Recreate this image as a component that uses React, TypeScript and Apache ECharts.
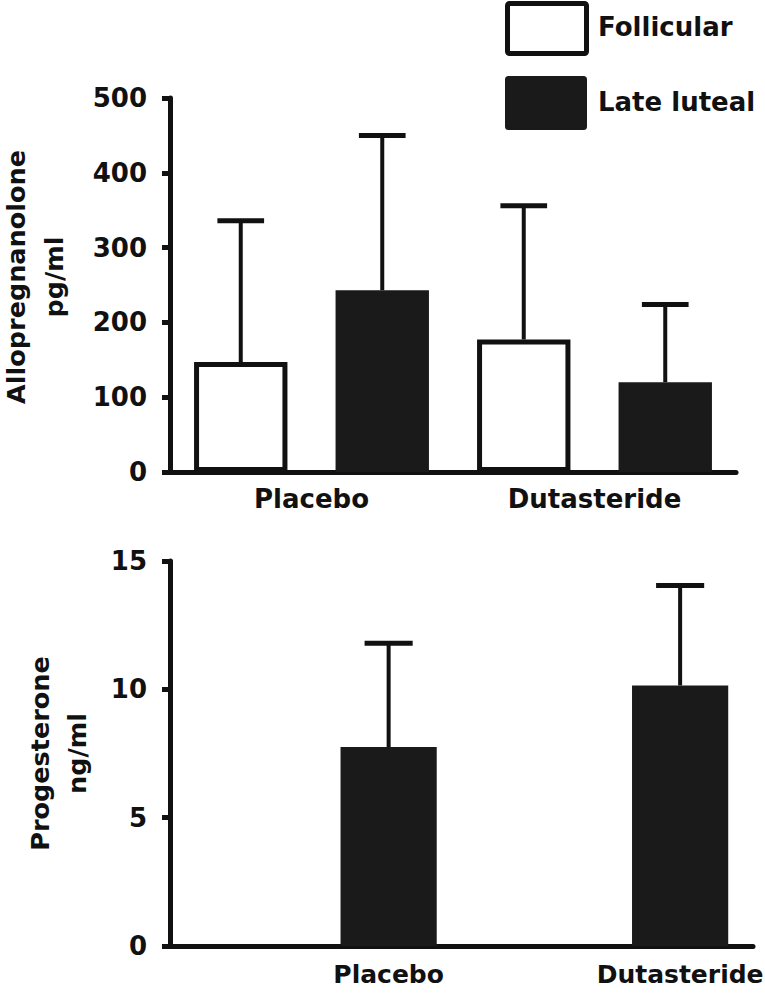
import React, { useEffect, useRef } from 'react';
import * as echarts from 'echarts';

const groups = ['Placebo', 'Dutasteride'];
const phases = ['Follicular', 'Late luteal'];

const alloMax = 500;
const alloStep = 100;
const alloFollicularMean = [147, 177];
const alloFollicularUpper = [336, 356];
const alloLutealMean = [243, 120];
const alloLutealUpper = [450, 224];

const progMax = 15;
const progStep = 5;
const progLutealMean = [7.75, 10.15];
const progLutealUpper = [11.8, 14.05];

const alloName = 'Allopregnanolone\npg/ml';
const progName = 'Progesterone\nng/ml';

const FONT = 'DejaVu Sans';
const INK = '#111';
const FILL = '#1a1a1a';

const whiteStyle = { color: '#fff', borderColor: INK, borderWidth: 5 };
const blackStyle = { color: FILL, borderColor: FILL, borderWidth: 5 };

const textBase = { fontFamily: FONT, fontWeight: 'bold' as const, fontSize: 26, color: INK };

function errRender(params: any, api: any) {
  const x = api.value(0);
  const base = api.coord([x, api.value(1)]);
  const top = api.coord([x, api.value(2)]);
  const half = api.size([1, 0])[0] * 0.165;
  return {
    type: 'group',
    children: [
      { type: 'line', shape: { x1: top[0], y1: top[1], x2: base[0], y2: base[1] }, style: { stroke: INK, lineWidth: 4 } },
      { type: 'line', shape: { x1: top[0] - half, y1: top[1], x2: top[0] + half, y2: top[1] }, style: { stroke: INK, lineWidth: 5 } },
    ],
  };
}

export default function App() {
  const ref = useRef<HTMLDivElement>(null);
  useEffect(() => {
    const chart = echarts.init(ref.current!, null, { renderer: 'svg' });
    const slots = groups.flatMap((g) => phases.map((p) => `${g} ${p}`));
    const topBars = groups.flatMap((g, i) => [
      { value: alloFollicularMean[i], itemStyle: whiteStyle },
      { value: alloLutealMean[i], itemStyle: blackStyle },
    ]);
    const topErr = groups.flatMap((g, i) => [
      [2 * i, alloFollicularMean[i], alloFollicularUpper[i]],
      [2 * i + 1, alloLutealMean[i], alloLutealUpper[i]],
    ]);
    const bottomBars = groups.flatMap((g, i) => ['-', { value: progLutealMean[i], itemStyle: blackStyle }]);
    const bottomErr = groups.map((g, i) => [2 * i + 1, progLutealMean[i], progLutealUpper[i]]);

    const axisLine = { show: true, lineStyle: { color: INK, width: 5 } };
    const yCommon = {
      type: 'value',
      splitLine: { show: false },
      axisLine,
      axisTick: { show: true, length: 8, lineStyle: { color: INK, width: 5 } },
      axisLabel: { ...textBase, fontSize: 26, margin: 23 },
      nameLocation: 'middle',
      nameRotate: 90,
    };

    chart.setOption({
      animation: false,
      backgroundColor: '#fff',
      grid: [
        { left: 170, right: 29, top: 98, height: 374, outerBoundsMode: 'none', containLabel: false },
        { left: 170, right: 12, top: 561, height: 385, outerBoundsMode: 'none', containLabel: false },
      ],
      xAxis: [
        {
          type: 'category', gridIndex: 0, data: slots, position: 'bottom',
          axisLine, axisTick: { show: false }, axisLabel: { show: false },
        },
        {
          type: 'category', gridIndex: 0, data: groups, position: 'bottom',
          axisLine: { show: false }, axisTick: { show: false },
          axisLabel: { ...textBase, margin: 14 },
        },
        {
          type: 'category', gridIndex: 1, data: slots, position: 'bottom',
          axisLine, axisTick: { show: false },
          axisLabel: {
            ...textBase, fontSize: 25, margin: 16, interval: 0,
            formatter: (v: string, idx: number) => (idx % 2 === 1 ? groups[(idx - 1) / 2] : ''),
          },
        },
      ],
      yAxis: [
        {
          ...yCommon, gridIndex: 0, min: 0, max: alloMax, interval: alloStep, name: alloName, nameGap: 97,
          nameTextStyle: { ...textBase, fontSize: 25.5, lineHeight: 38, padding: [0, 0, 0, 16] },
        },
        {
          ...yCommon, gridIndex: 1, min: 0, max: progMax, interval: progStep, name: progName, nameGap: 75,
          nameTextStyle: { ...textBase, fontSize: 25.5, lineHeight: 37 },
        },
      ],
      series: [
        { type: 'bar', xAxisIndex: 0, yAxisIndex: 0, data: topBars, barWidth: '66%', z: 2 },
        { type: 'custom', xAxisIndex: 0, yAxisIndex: 0, data: topErr, renderItem: errRender, encode: { x: 0, y: [1, 2] }, z: 1, clip: false },
        { type: 'bar', xAxisIndex: 2, yAxisIndex: 1, data: bottomBars, barWidth: '66%', z: 2 },
        { type: 'custom', xAxisIndex: 2, yAxisIndex: 1, data: bottomErr, renderItem: errRender, encode: { x: 0, y: [1, 2] }, z: 1, clip: false },
      ],
      graphic: [
        { type: 'rect', left: 505, top: 1, shape: { width: 79, height: 50, r: 2 }, style: { fill: '#fff', stroke: INK, lineWidth: 5 } },
        { type: 'rect', left: 505, top: 76, shape: { width: 79, height: 51, r: 2 }, style: { fill: FILL, stroke: FILL, lineWidth: 3 } },
        { type: 'text', x: 598, y: 27, style: { text: phases[0], font: `bold 26px "${FONT}"`, fill: INK, verticalAlign: 'middle' } },
        { type: 'text', x: 598, y: 102, style: { text: phases[1], font: `bold 26px "${FONT}"`, fill: INK, verticalAlign: 'middle' } },
      ],
    });
    return () => chart.dispose();
  }, []);
  return <div ref={ref} style={{ position: 'absolute', left: 0, top: 0, width: 765, height: 998 }} />;
}
